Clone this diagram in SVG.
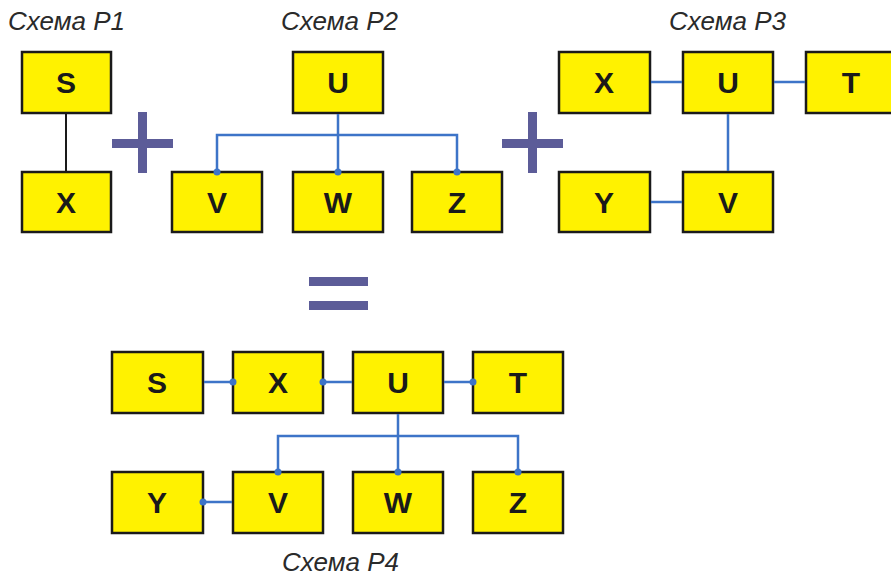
<svg xmlns="http://www.w3.org/2000/svg" width="891" height="578" viewBox="0 0 891 578">
<style>
.box{fill:#FFF200;stroke:#1a1a1a;stroke-width:2.5}
.lbl{font-family:"Liberation Sans",Arial,sans-serif;font-weight:bold;font-size:30px;fill:#1a1a1a;text-anchor:middle}
.cap{font-family:"Liberation Sans",Arial,sans-serif;font-style:italic;font-size:26px;fill:#2a2a2a}
.ln{stroke:#3D74C8;stroke-width:2.5;fill:none}
.blk{stroke:#1a1a1a;stroke-width:2;fill:none}
.dot{fill:#3D74C8}
.op{fill:#5C5C98}
</style>
<rect width="891" height="578" fill="#fff"/>
<g id="captions">
<text class="cap" x="8" y="30">Схема P1</text>
<text class="cap" x="281" y="30">Схема P2</text>
<text class="cap" x="669" y="30">Схема P3</text>
<text class="cap" x="282" y="571">Схема P4</text>
</g>
<g id="operators">
<rect class="op" x="112" y="139" width="61" height="9"/>
<rect class="op" x="138" y="112" width="9" height="61"/>
<rect class="op" x="502" y="139" width="61" height="9"/>
<rect class="op" x="528" y="112" width="9" height="61"/>
<rect class="op" x="309" y="277" width="59" height="9"/>
<rect class="op" x="309" y="301" width="59" height="9"/>
</g>
<g id="p1-S"><rect class="box" x="22" y="52" width="89" height="61"/><text class="lbl" x="66" y="93">S</text></g>
<g id="p1-X"><rect class="box" x="22" y="172" width="89" height="60"/><text class="lbl" x="66" y="213">X</text></g>
<g id="p2-U"><rect class="box" x="293" y="52" width="90" height="61"/><text class="lbl" x="338" y="93">U</text></g>
<g id="p2-V"><rect class="box" x="172" y="172" width="90" height="60"/><text class="lbl" x="217" y="213">V</text></g>
<g id="p2-W"><rect class="box" x="293" y="172" width="90" height="60"/><text class="lbl" x="338" y="213">W</text></g>
<g id="p2-Z"><rect class="box" x="412" y="172" width="90" height="60"/><text class="lbl" x="457" y="213">Z</text></g>
<g id="p3-X"><rect class="box" x="559" y="52" width="91" height="61"/><text class="lbl" x="604" y="93">X</text></g>
<g id="p3-U"><rect class="box" x="683" y="52" width="90" height="61"/><text class="lbl" x="728" y="93">U</text></g>
<g id="p3-T"><rect class="box" x="806" y="52" width="90" height="61"/><text class="lbl" x="851" y="93">T</text></g>
<g id="p3-Y"><rect class="box" x="559" y="172" width="91" height="60"/><text class="lbl" x="604" y="213">Y</text></g>
<g id="p3-V"><rect class="box" x="683" y="172" width="90" height="60"/><text class="lbl" x="728" y="213">V</text></g>
<g id="p4-S"><rect class="box" x="112" y="352" width="91" height="61"/><text class="lbl" x="157" y="393">S</text></g>
<g id="p4-X"><rect class="box" x="233" y="352" width="90" height="61"/><text class="lbl" x="278" y="393">X</text></g>
<g id="p4-U"><rect class="box" x="353" y="352" width="90" height="61"/><text class="lbl" x="398" y="393">U</text></g>
<g id="p4-T"><rect class="box" x="473" y="352" width="90" height="61"/><text class="lbl" x="518" y="393">T</text></g>
<g id="p4-Y"><rect class="box" x="112" y="472" width="91" height="61"/><text class="lbl" x="157" y="513">Y</text></g>
<g id="p4-V"><rect class="box" x="233" y="472" width="90" height="61"/><text class="lbl" x="278" y="513">V</text></g>
<g id="p4-W"><rect class="box" x="353" y="472" width="90" height="61"/><text class="lbl" x="398" y="513">W</text></g>
<g id="p4-Z"><rect class="box" x="473" y="472" width="90" height="61"/><text class="lbl" x="518" y="513">Z</text></g>
<g id="connectors">
<line class="blk" x1="66" y1="114" x2="66" y2="171"/>
<path class="ln" d="M338 114V172M217 172V135H457V172"/>
<circle class="dot" cx="217" cy="172" r="3.5"/>
<circle class="dot" cx="338" cy="172" r="3.5"/>
<circle class="dot" cx="457" cy="172" r="3.5"/>
<path class="ln" d="M651 82H682M774 82H805M728 114V171M651 202H682"/>
<path class="ln" d="M204 382H233M324 382H352M444 382H473M398 414V472M278 472V436H518V472M203 502H232"/>
<circle class="dot" cx="233" cy="382" r="3.5"/>
<circle class="dot" cx="323" cy="382" r="3.5"/>
<circle class="dot" cx="473" cy="382" r="3.5"/>
<circle class="dot" cx="278" cy="472" r="3.5"/>
<circle class="dot" cx="398" cy="472" r="3.5"/>
<circle class="dot" cx="518" cy="472" r="3.5"/>
<circle class="dot" cx="203" cy="502" r="3.5"/>
</g>
</svg>
